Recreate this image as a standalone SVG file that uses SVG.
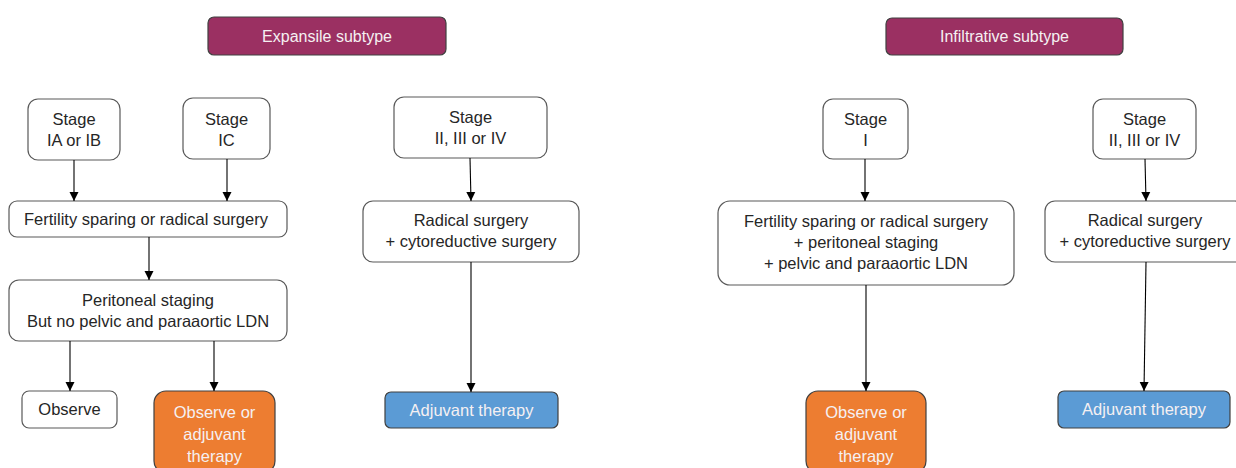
<svg xmlns="http://www.w3.org/2000/svg" width="1236" height="468" viewBox="0 0 1236 468">
<defs>
<marker id="ah" markerWidth="10" markerHeight="10" refX="9" refY="5" orient="auto" markerUnits="userSpaceOnUse">
<path d="M0,0.5 L9,5 L0,9.5 Z" fill="#000"/>
</marker>
<style>
.box{fill:#fff;stroke:#595959;stroke-width:1.2}
.hdr{fill:#9B3062;stroke:#404040;stroke-width:1.2}
.org{fill:#ED7D31;stroke:#404040;stroke-width:1.2}
.blu{fill:#5B9BD5;stroke:#404040;stroke-width:1.2}
text{font-family:"Liberation Sans",Arial,sans-serif;font-size:16.5px;fill:#262626;text-anchor:middle}
.h{font-size:16px}
.w{fill:#F5F0F2}
.c line{stroke:#000;stroke-width:1.1;marker-end:url(#ah)}
</style>
</defs>
<rect width="1236" height="468" fill="#fff"/>

<g id="hdr-expansile"><rect class="hdr" x="208" y="17" width="238" height="38" rx="6"/><text class="w h" x="327" y="42">Expansile subtype</text></g>
<g id="hdr-infiltrative"><rect class="hdr" x="886" y="18" width="237" height="37" rx="6"/><text class="w h" x="1004.5" y="42">Infiltrative subtype</text></g>

<g id="e-stage-iab"><rect class="box" x="28" y="99" width="92" height="61" rx="10"/><text x="74" y="125">Stage</text><text x="74" y="146">IA or IB</text></g>
<g id="e-stage-ic"><rect class="box" x="183" y="98" width="87" height="61" rx="10"/><text x="226.5" y="125">Stage</text><text x="226.5" y="146">IC</text></g>
<g id="e-stage-234"><rect class="box" x="394" y="97" width="153" height="61" rx="10"/><text x="470.5" y="123">Stage</text><text x="470.5" y="144">II, III or IV</text></g>
<g id="e-fert"><rect class="box" x="9" y="201" width="278" height="36" rx="8"/><text x="146" y="225">Fertility sparing or radical surgery</text></g>
<g id="e-perit"><rect class="box" x="9" y="280" width="278" height="61" rx="10"/><text x="148" y="306">Peritoneal staging</text><text x="148" y="327">But no pelvic and paraaortic LDN</text></g>
<g id="e-radical"><rect class="box" x="363" y="201" width="216" height="61" rx="10"/><text x="471" y="226">Radical surgery</text><text x="471" y="247">+ cytoreductive surgery</text></g>
<g id="e-observe"><rect class="box" x="22" y="391" width="95" height="37" rx="7"/><text x="69.5" y="415">Observe</text></g>
<g id="e-obs-adj"><rect class="org" x="154" y="391" width="121" height="82" rx="12"/><text class="w" x="214.5" y="418">Observe or</text><text class="w" x="214.5" y="440">adjuvant</text><text class="w" x="214.5" y="462">therapy</text></g>
<g id="e-adj"><rect class="blu" x="385" y="392" width="173" height="36" rx="6"/><text class="w" x="471.5" y="416">Adjuvant therapy</text></g>

<g id="i-stage-1"><rect class="box" x="823" y="99" width="85" height="60" rx="10"/><text x="865.5" y="125">Stage</text><text x="865.5" y="146">I</text></g>
<g id="i-stage-234"><rect class="box" x="1093" y="99" width="103" height="60" rx="10"/><text x="1144.5" y="125">Stage</text><text x="1144.5" y="146">II, III or IV</text></g>
<g id="i-fert"><rect class="box" x="718" y="201" width="296" height="84" rx="12"/><text x="866" y="227">Fertility sparing or radical surgery</text><text x="866" y="248">+ peritoneal staging</text><text x="866" y="269">+ pelvic and paraaortic LDN</text></g>
<g id="i-radical"><rect class="box" x="1045" y="201" width="200" height="61" rx="10"/><text x="1145" y="226">Radical surgery</text><text x="1145" y="247">+ cytoreductive surgery</text></g>
<g id="i-obs-adj"><rect class="org" x="806" y="391" width="120" height="82" rx="12"/><text class="w" x="866" y="418">Observe or</text><text class="w" x="866" y="440">adjuvant</text><text class="w" x="866" y="462">therapy</text></g>
<g id="i-adj"><rect class="blu" x="1058" y="391" width="172" height="37" rx="6"/><text class="w" x="1144" y="415">Adjuvant therapy</text></g>

<g id="connectors" class="c">
<line x1="74" y1="160" x2="74" y2="201"/>
<line x1="227" y1="159" x2="227" y2="201"/>
<line x1="149" y1="237" x2="149" y2="280"/>
<line x1="70" y1="341" x2="70" y2="391"/>
<line x1="214" y1="341" x2="214" y2="391"/>
<line x1="470" y1="158" x2="471" y2="201"/>
<line x1="471" y1="262" x2="471" y2="392"/>
<line x1="865" y1="159" x2="865" y2="201"/>
<line x1="866" y1="285" x2="866" y2="391"/>
<line x1="1145" y1="159" x2="1146" y2="201"/>
<line x1="1146" y1="262" x2="1144" y2="391"/>
</g>
</svg>
